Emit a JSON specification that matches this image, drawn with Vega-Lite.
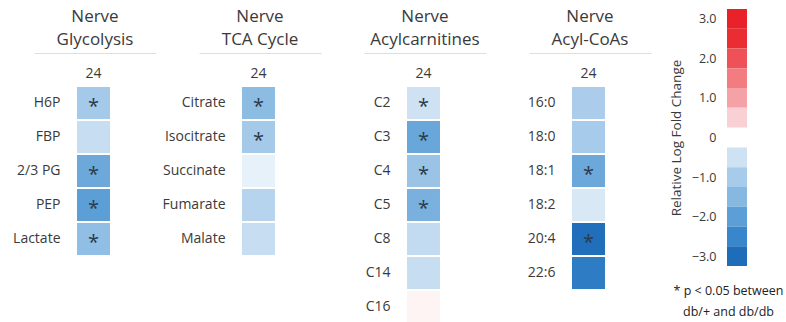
{
  "$schema": "https://vega.github.io/schema/vega-lite/v6.json",
  "background": "white",
  "padding": {"left": 12, "top": 8, "right": 0, "bottom": 0},
  "config": {
    "font": "Open Sans",
    "view": {"stroke": null},
    "axis": {"labelFont": "Open Sans", "titleFont": "Open Sans", "labelColor": "#3a3a3a", "titleColor": "#3a3a3a"},
    "title": {"font": "Open Sans", "fontSize": 17, "fontWeight": "normal", "color": "#3a3a3a", "lineHeight": 23, "offset": 4, "anchor": "middle"}
  },
  "datasets": {
    "cells": [
      {"panel": "Glycolysis", "metabolite": "H6P", "age": "24", "lfc": -1.05, "sig": true},
      {"panel": "Glycolysis", "metabolite": "FBP", "age": "24", "lfc": -0.6, "sig": false},
      {"panel": "Glycolysis", "metabolite": "2/3 PG", "age": "24", "lfc": -1.8, "sig": true},
      {"panel": "Glycolysis", "metabolite": "PEP", "age": "24", "lfc": -2.0, "sig": true},
      {"panel": "Glycolysis", "metabolite": "Lactate", "age": "24", "lfc": -1.35, "sig": true},
      {"panel": "TCA Cycle", "metabolite": "Citrate", "age": "24", "lfc": -1.4, "sig": true},
      {"panel": "TCA Cycle", "metabolite": "Isocitrate", "age": "24", "lfc": -1.05, "sig": true},
      {"panel": "TCA Cycle", "metabolite": "Succinate", "age": "24", "lfc": -0.25, "sig": false},
      {"panel": "TCA Cycle", "metabolite": "Fumarate", "age": "24", "lfc": -0.8, "sig": false},
      {"panel": "TCA Cycle", "metabolite": "Malate", "age": "24", "lfc": -0.6, "sig": false},
      {"panel": "Acylcarnitines", "metabolite": "C2", "age": "24", "lfc": -0.5, "sig": true},
      {"panel": "Acylcarnitines", "metabolite": "C3", "age": "24", "lfc": -1.85, "sig": true},
      {"panel": "Acylcarnitines", "metabolite": "C4", "age": "24", "lfc": -1.2, "sig": true},
      {"panel": "Acylcarnitines", "metabolite": "C5", "age": "24", "lfc": -1.65, "sig": true},
      {"panel": "Acylcarnitines", "metabolite": "C8", "age": "24", "lfc": -0.65, "sig": false},
      {"panel": "Acylcarnitines", "metabolite": "C14", "age": "24", "lfc": -0.6, "sig": false},
      {"panel": "Acylcarnitines", "metabolite": "C16", "age": "24", "lfc": 0.12, "sig": false},
      {"panel": "Acyl-CoAs", "metabolite": "16:0", "age": "24", "lfc": -0.95, "sig": false},
      {"panel": "Acyl-CoAs", "metabolite": "18:0", "age": "24", "lfc": -1.0, "sig": false},
      {"panel": "Acyl-CoAs", "metabolite": "18:1", "age": "24", "lfc": -1.8, "sig": true},
      {"panel": "Acyl-CoAs", "metabolite": "18:2", "age": "24", "lfc": -0.4, "sig": false},
      {"panel": "Acyl-CoAs", "metabolite": "20:4", "age": "24", "lfc": -2.95, "sig": true},
      {"panel": "Acyl-CoAs", "metabolite": "22:6", "age": "24", "lfc": -2.7, "sig": false}
    ],
    "key": [
      {"lo": 2.75, "hi": 3.25, "lfc": 3.0},
      {"lo": 2.25, "hi": 2.75, "lfc": 2.5},
      {"lo": 1.75, "hi": 2.25, "lfc": 2.0},
      {"lo": 1.25, "hi": 1.75, "lfc": 1.5},
      {"lo": 0.75, "hi": 1.25, "lfc": 1.0},
      {"lo": 0.25, "hi": 0.75, "lfc": 0.5},
      {"lo": -0.75, "hi": -0.25, "lfc": -0.5},
      {"lo": -1.25, "hi": -0.75, "lfc": -1.0},
      {"lo": -1.75, "hi": -1.25, "lfc": -1.5},
      {"lo": -2.25, "hi": -1.75, "lfc": -2.0},
      {"lo": -2.75, "hi": -2.25, "lfc": -2.5},
      {"lo": -3.25, "hi": -2.75, "lfc": -3.0}
    ]
  },
  "spacing": 18,
  "hconcat": [
    {
      "spacing": 43,
      "bounds": "flush",
      "hconcat": [
        {
          "title": {"text": ["Nerve", "Glycolysis"]},
          "width": 122, "height": 170,
          "data": {"name": "cells"},
          "transform": [{"filter": "datum.panel === 'Glycolysis'"}],
          "layer": [
            {
              "mark": {"type": "rect"},
              "encoding": {
                "x": {"field": "age", "type": "nominal", "scale": {"paddingInner": 0.2584, "paddingOuter": 1, "align": 0.483},
                      "axis": {"orient": "top", "offset": 33, "domain": true, "domainColor": "#dedede", "domainWidth": 1, "ticks": false, "tickSize": 0, "labelPadding": -20, "labelBaseline": "middle", "labelAngle": 0, "labelFontSize": 14, "title": null}},
                "y": {"field": "metabolite", "type": "nominal", "sort": null, "scale": {"paddingInner": 0.06, "paddingOuter": 0.03},
                      "axis": {"orient": "left", "offset": -43, "domain": false, "ticks": false, "tickSize": 0, "labelPadding": 17, "labelFontSize": 14, "title": null}},
                "color": {"field": "lfc", "type": "quantitative", "legend": null,
                          "scale": {"type": "linear", "clamp": true, "interpolate": "rgb",
                                    "domain": [-3, -2.5, -2, -1.5, -1, -0.5, 0, 0.5, 1, 1.5, 2, 2.5, 3],
                                    "range": ["#1e6db8", "#3886cb", "#5c9ed6", "#86b8e1", "#a7cbea", "#cfe2f3", "#ffffff", "#f9d0d3", "#f5a2a6", "#f27c80", "#ee5157", "#ea2c33", "#e82228"]}}
              }
            },
            {
              "mark": {"type": "text", "fontSize": 20, "color": "#2b3a4a", "baseline": "middle", "dy": 4},
              "encoding": {
                "x": {"field": "age", "type": "nominal"},
                "y": {"field": "metabolite", "type": "nominal", "sort": null},
                "text": {"condition": {"test": "datum.sig", "value": "*"}, "value": ""}
              }
            }
          ]
        },
        {
          "title": {"text": ["Nerve", "TCA Cycle"]},
          "width": 122, "height": 170,
          "data": {"name": "cells"},
          "transform": [{"filter": "datum.panel === 'TCA Cycle'"}],
          "layer": [
            {
              "mark": {"type": "rect"},
              "encoding": {
                "x": {"field": "age", "type": "nominal", "scale": {"paddingInner": 0.2584, "paddingOuter": 1, "align": 0.483},
                      "axis": {"orient": "top", "offset": 33, "domain": true, "domainColor": "#dedede", "domainWidth": 1, "ticks": false, "tickSize": 0, "labelPadding": -20, "labelBaseline": "middle", "labelAngle": 0, "labelFontSize": 14, "title": null}},
                "y": {"field": "metabolite", "type": "nominal", "sort": null, "scale": {"paddingInner": 0.06, "paddingOuter": 0.03},
                      "axis": {"orient": "left", "offset": -43, "domain": false, "ticks": false, "tickSize": 0, "labelPadding": 17, "labelFontSize": 14, "title": null}},
                "color": {"field": "lfc", "type": "quantitative", "legend": null}
              }
            },
            {
              "mark": {"type": "text", "fontSize": 20, "color": "#2b3a4a", "baseline": "middle", "dy": 4},
              "encoding": {
                "x": {"field": "age", "type": "nominal"},
                "y": {"field": "metabolite", "type": "nominal", "sort": null},
                "text": {"condition": {"test": "datum.sig", "value": "*"}, "value": ""}
              }
            }
          ]
        },
        {
          "title": {"text": ["Nerve", "Acylcarnitines"]},
          "width": 122, "height": 238,
          "data": {"name": "cells"},
          "transform": [{"filter": "datum.panel === 'Acylcarnitines'"}],
          "layer": [
            {
              "mark": {"type": "rect"},
              "encoding": {
                "x": {"field": "age", "type": "nominal", "scale": {"paddingInner": 0.2584, "paddingOuter": 1, "align": 0.483},
                      "axis": {"orient": "top", "offset": 33, "domain": true, "domainColor": "#dedede", "domainWidth": 1, "ticks": false, "tickSize": 0, "labelPadding": -20, "labelBaseline": "middle", "labelAngle": 0, "labelFontSize": 14, "title": null}},
                "y": {"field": "metabolite", "type": "nominal", "sort": null, "scale": {"paddingInner": 0.06, "paddingOuter": 0.03},
                      "axis": {"orient": "left", "offset": -43, "domain": false, "ticks": false, "tickSize": 0, "labelPadding": 17, "labelFontSize": 14, "title": null}},
                "color": {"field": "lfc", "type": "quantitative", "legend": null}
              }
            },
            {
              "mark": {"type": "text", "fontSize": 20, "color": "#2b3a4a", "baseline": "middle", "dy": 4},
              "encoding": {
                "x": {"field": "age", "type": "nominal"},
                "y": {"field": "metabolite", "type": "nominal", "sort": null},
                "text": {"condition": {"test": "datum.sig", "value": "*"}, "value": ""}
              }
            }
          ]
        },
        {
          "title": {"text": ["Nerve", "Acyl-CoAs"]},
          "width": 122, "height": 204,
          "data": {"name": "cells"},
          "transform": [{"filter": "datum.panel === 'Acyl-CoAs'"}],
          "layer": [
            {
              "mark": {"type": "rect"},
              "encoding": {
                "x": {"field": "age", "type": "nominal", "scale": {"paddingInner": 0.2584, "paddingOuter": 1, "align": 0.483},
                      "axis": {"orient": "top", "offset": 33, "domain": true, "domainColor": "#dedede", "domainWidth": 1, "ticks": false, "tickSize": 0, "labelPadding": -20, "labelBaseline": "middle", "labelAngle": 0, "labelFontSize": 14, "title": null}},
                "y": {"field": "metabolite", "type": "nominal", "sort": null, "scale": {"paddingInner": 0.06, "paddingOuter": 0.03},
                      "axis": {"orient": "left", "offset": -43, "domain": false, "ticks": false, "tickSize": 0, "labelPadding": 17, "labelFontSize": 14, "title": null}},
                "color": {"field": "lfc", "type": "quantitative", "legend": null}
              }
            },
            {
              "mark": {"type": "text", "fontSize": 20, "color": "#2b3a4a", "baseline": "middle", "dy": 4},
              "encoding": {
                "x": {"field": "age", "type": "nominal"},
                "y": {"field": "metabolite", "type": "nominal", "sort": null},
                "text": {"condition": {"test": "datum.sig", "value": "*"}, "value": ""}
              }
            }
          ]
        }
      ]
    },
    {
      "width": 78, "height": 180,
      "data": {"name": "key"},
      "mark": {"type": "rect"},
      "encoding": {
        "x": {"datum": "key", "type": "nominal", "scale": {"paddingInner": 0.3106, "paddingOuter": 1, "align": 0.655},
              "axis": {"orient": "bottom", "labels": false, "ticks": false, "domain": false,
                       "title": ["* p < 0.05 between", "db/+ and db/db"], "titleFontSize": 12.5, "titleFontWeight": "normal",
                       "titlePadding": 18, "titleLineHeight": 21, "titleColor": "#222222"}},
        "y": {"field": "lo", "type": "quantitative", "scale": {"domain": [-3.25, 3.25], "range": [180, -77], "nice": false, "zero": false},
              "axis": {"orient": "left", "offset": -38, "domain": false, "ticks": false, "tickSize": 0, "grid": false,
                       "values": [-3, -2, -1, 0, 1, 2, 3], "labelPadding": 11, "labelFontSize": 12.5,
                       "labelExpr": "datum.value === 0 ? '0' : format(datum.value, '.1f')",
                       "title": "Relative Log Fold Change", "titleFontSize": 13.5, "titleFontWeight": "normal", "titlePadding": 7.5}},
        "y2": {"field": "hi"},
        "color": {"field": "lfc", "type": "quantitative", "legend": null}
      }
    }
  ]
}
